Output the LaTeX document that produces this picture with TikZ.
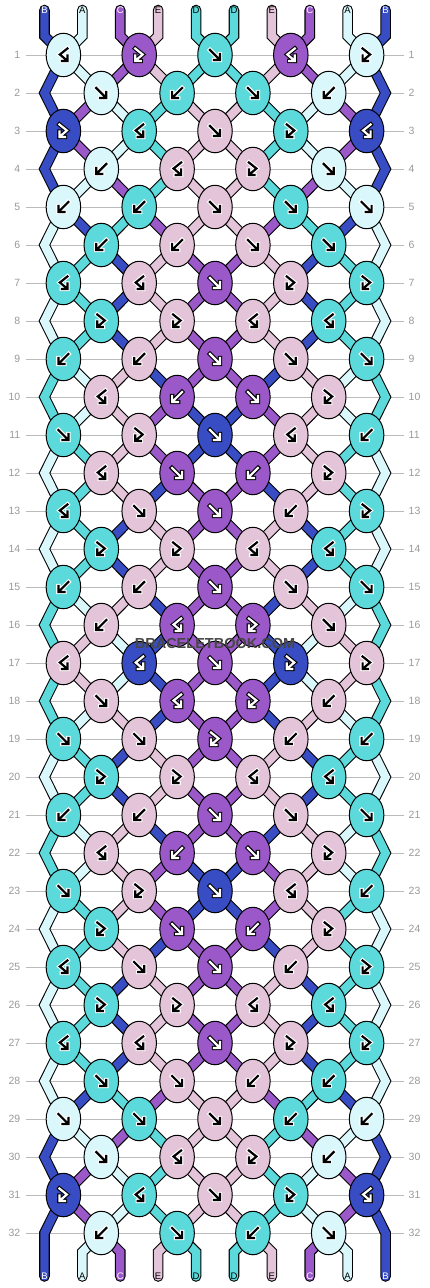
\documentclass[tikz,border=0pt]{standalone}
\usepackage{fontspec}
\setmainfont{Liberation Sans}
\usetikzlibrary{shapes.geometric}
\definecolor{cA}{HTML}{DAF8FC}
\definecolor{cB}{HTML}{384DC3}
\definecolor{cC}{HTML}{9A58C8}
\definecolor{cD}{HTML}{5CD9DA}
\definecolor{cE}{HTML}{E4C4D8}
\definecolor{rowgray}{HTML}{BBBBBB}
\definecolor{labgray}{HTML}{999999}
\newcommand\darkB{}
\newcommand\darkC{}
\tikzset{
 s0/.style={draw=black,line width=10.6pt,line cap=round,line join=miter},
 s1/.style={draw=c#1,line width=8.4pt,line cap=round,line join=miter},
 knot/.style={ellipse,draw=black,line width=1pt,minimum width=34.5pt,minimum height=43.5pt,inner sep=0pt},
 gout/.style={draw=#1,line width=4.4pt,line cap=rect,line join=miter},
 gin/.style={draw=#1,line width=2.2pt,line cap=rect,line join=miter},
 rowline/.style={draw=rowgray,line width=1pt},
 rowlab/.style={text=labgray,font=\fontsize{10.5}{12}\selectfont,inner sep=3pt},
 strlab/.style={font=\fontsize{9.5}{11}\selectfont,inner sep=0pt},
 pics/gF/.style 2 args={code={
   \draw[gout=#2] (-5,-5) -- (4,4) (5,-1) -- (5,5) -- (-1,5);
   \draw[gin=#1] (-5,-5) -- (4,4) (5,-1) -- (5,5) -- (-1,5);}},
 pics/gB/.style 2 args={code={
   \draw[gout=#2] (5,-5) -- (-4,4) (-5,-1) -- (-5,5) -- (1,5);
   \draw[gin=#1] (5,-5) -- (-4,4) (-5,-1) -- (-5,5) -- (1,5);}},
 pics/gFB/.style 2 args={code={
   \draw[gout=#2] (-4,-6.5) -- (3.5,-0.5) -- (-3.2,5.2) (-4,0.5) -- (-4,6) -- (1.5,6);
   \draw[gin=#1] (-4,-6.5) -- (3.5,-0.5) -- (-3.2,5.2) (-4,0.5) -- (-4,6) -- (1.5,6);}},
 pics/gBF/.style 2 args={code={
   \draw[gout=#2] (4,-6.5) -- (-3.5,-0.5) -- (3.2,5.2) (4,0.5) -- (4,6) -- (-1.5,6);
   \draw[gin=#1] (4,-6.5) -- (-3.5,-0.5) -- (3.2,5.2) (4,0.5) -- (4,6) -- (-1.5,6);}},
}
\newcommand\strandpass[1]{%
 \foreach \r/\st in {
  0/{B,A,C,E,D,D,E,C,A,B},
  1/{B,A,C,E,D,D,E,C,A,B},
  2/{B,C,A,D,E,E,D,A,C,B},
  3/{B,C,A,D,E,E,D,A,C,B},
  4/{B,A,C,D,E,E,D,C,A,B},
  5/{A,B,D,C,E,E,C,D,B,A},
  6/{A,D,B,E,C,C,E,B,D,A},
  7/{A,D,B,E,C,C,E,B,D,A},
  8/{A,D,B,E,C,C,E,B,D,A},
  9/{D,A,E,B,C,C,B,E,A,D},
  10/{D,A,E,C,B,B,C,E,A,D},
  11/{A,D,E,C,B,B,C,E,D,A},
  12/{A,D,E,B,C,C,B,E,D,A},
  13/{A,D,B,E,C,C,E,B,D,A},
  14/{A,D,B,E,C,C,E,B,D,A},
  15/{D,A,E,B,C,C,B,E,A,D},
  16/{D,E,A,B,C,C,B,A,E,D},
  17/{D,E,A,B,C,C,B,A,E,D},
  18/{D,A,E,B,C,C,B,E,A,D},
  19/{A,D,B,E,C,C,E,B,D,A},
  20/{A,D,B,E,C,C,E,B,D,A},
  21/{D,A,E,B,C,C,B,E,A,D},
  22/{D,A,E,C,B,B,C,E,A,D},
  23/{A,D,E,C,B,B,C,E,D,A},
  24/{A,D,E,B,C,C,B,E,D,A},
  25/{A,D,B,E,C,C,E,B,D,A},
  26/{A,D,B,E,C,C,E,B,D,A},
  27/{A,D,B,E,C,C,E,B,D,A},
  28/{A,B,D,C,E,E,C,D,B,A},
  29/{B,A,C,D,E,E,D,C,A,B},
  30/{B,C,A,D,E,E,D,A,C,B},
  31/{B,C,A,D,E,E,D,A,C,B},
  32/{B,A,C,E,D,D,E,C,A,B}}{%
   \pgfmathtruncatemacro\rn{\r+1}%
   \pgfmathtruncatemacro\rp{mod(\r,2)}%
   \foreach \c [count=\i] in \st {%
     \pgfmathtruncatemacro\kc{(\i+1)/2}%
     \pgfmathtruncatemacro\kf{\i/2}%
     \ifnum\r=0
       \draw[s#1=\c] (T-\i) -- (TB-\i) -- (k-1-\kc);
     \else
       \ifnum\i=1 \else\ifnum\i=10 \else
         \ifnum\r=32
           \draw[s#1=\c] (k-32-\kf) -- (BB-\i) -- (BE-\i);
         \else
           \ifnum\rp=1
             \draw[s#1=\c] (k-\r-\kc) -- (k-\rn-\kf);
           \else
             \draw[s#1=\c] (k-\r-\kf) -- (k-\rn-\kc);
           \fi
         \fi
       \fi\fi
     \fi
   }%
 }%
 \foreach \r/\c in {2/B,4/B,6/A,8/A,10/D,12/A,14/A,16/D,18/D,20/A,22/D,24/A,26/A,28/A,30/B,32/B}{%
   \pgfmathtruncatemacro\ra{\r-1}%
   \pgfmathtruncatemacro\rb{\r+1}%
   \ifnum\r=32
     \draw[s#1=\c] (k-31-1) -- (L-32) -- (BE-1);
     \draw[s#1=\c] (k-31-5) -- (R-32) -- (BE-10);
   \else
     \draw[s#1=\c] (k-\ra-1) -- (L-\r) -- (k-\rb-1);
     \draw[s#1=\c] (k-\ra-5) -- (R-\r) -- (k-\rb-5);
   \fi
 }%
}
\begin{document}
\begin{tikzpicture}[x=1pt,y=-1pt]
\path[use as bounding box] (0,0) rectangle (430,1288);
% coordinates
\foreach \r in {1,3,...,31}{\foreach \k in {1,...,5}{\coordinate (k-\r-\k) at ({215+(\k-3)*75.8},{55+(\r-1)*38});}}
\foreach \r in {2,4,...,32}{\foreach \k in {1,...,4}{\coordinate (k-\r-\k) at ({215+(\k-2.5)*75.8},{55+(\r-1)*38});}
  \coordinate (L-\r) at ({215-4.5*37.9},{55+(\r-1)*38});
  \coordinate (R-\r) at ({215+4.5*37.9},{55+(\r-1)*38});}
\foreach \i in {1,...,10}{
  \coordinate (T-\i) at ({215+(\i-5.5)*37.9},10);
  \coordinate (TB-\i) at ({215+(\i-5.5)*37.9},36);
  \coordinate (BB-\i) at ({215+(\i-5.5)*37.9},1252);
  \coordinate (BE-\i) at ({215+(\i-5.5)*37.9},1276.5);}
% row numbers and lines
\foreach \r in {1,...,32}{
  \node[rowlab,anchor=east] (ll-\r) at (23.5,{55+(\r-1)*38}) {\r};
  \node[rowlab,anchor=west] (lr-\r) at (405.5,{55+(\r-1)*38}) {\r};
  \draw[rowline,shorten <=2.5pt,shorten >=1.5pt] (ll-\r.east) -- (lr-\r.west);}
% strands
\strandpass{0}
\strandpass{1}
% end labels
\foreach \c [count=\i] in {B,A,C,E,D,D,E,C,A,B}{
  \ifcsname dark\c\endcsname\def\tc{white}\else\def\tc{black}\fi
  \node[strlab,text=\tc] (tl-\i) at (T-\i) {\c};
  \node[strlab,text=\tc] (bl-\i) at (BE-\i) {\c};}
% knots
\foreach \r/\lst in {
  1/{A/BF,C/FB,D/F,C/BF,A/FB},
  2/{A/F,D/B,D/F,A/B},
  3/{B/FB,D/BF,E/F,D/FB,B/BF},
  4/{A/B,E/BF,E/FB,A/F},
  5/{A/B,D/B,E/F,D/F,A/F},
  6/{D/B,E/B,E/F,D/F},
  7/{D/BF,E/BF,C/F,E/FB,D/FB},
  8/{D/FB,E/FB,E/BF,D/BF},
  9/{D/B,E/B,C/F,E/F,D/F},
  10/{E/BF,C/B,C/F,E/FB},
  11/{D/F,E/FB,B/F,E/BF,D/B},
  12/{E/BF,C/F,C/B,E/FB},
  13/{D/BF,E/F,C/F,E/B,D/FB},
  14/{D/FB,E/FB,E/BF,D/BF},
  15/{D/B,E/B,C/F,E/F,D/F},
  16/{E/B,C/BF,C/FB,E/F},
  17/{E/BF,B/BF,C/F,B/FB,E/FB},
  18/{E/F,C/BF,C/FB,E/B},
  19/{D/F,E/F,C/FB,E/B,D/B},
  20/{D/FB,E/FB,E/BF,D/BF},
  21/{D/B,E/B,C/F,E/F,D/F},
  22/{E/BF,C/B,C/F,E/FB},
  23/{D/F,E/FB,B/F,E/BF,D/B},
  24/{D/FB,C/F,C/B,E/FB},
  25/{D/BF,E/F,C/F,E/B,D/FB},
  26/{D/FB,E/FB,E/BF,D/BF},
  27/{D/BF,E/BF,C/F,E/FB,D/FB},
  28/{D/F,E/F,E/B,D/B},
  29/{A/F,D/F,E/F,D/B,A/B},
  30/{A/F,E/BF,E/FB,A/B},
  31/{B/FB,D/BF,E/F,D/FB,B/BF},
  32/{A/B,D/F,D/B,A/F}}{%
  \foreach \col/\typ [count=\k] in \lst {%
    \ifcsname dark\col\endcsname\def\gi{white}\def\go{black}\else\def\gi{black}\def\go{white}\fi
    \edef\tmp{\noexpand\node[knot,fill=c\col] (n-\r-\k) at (k-\r-\k) {};
      \noexpand\pic at (n-\r-\k.center) {g\typ={\gi}{\go}};}%
    \tmp
  }%
}
% watermark
\node[font=\bfseries\fontsize{14.5}{16}\selectfont,text=black!72] (wm) at (215,643) {BRACELETBOOK.COM};
\end{tikzpicture}
\end{document}
